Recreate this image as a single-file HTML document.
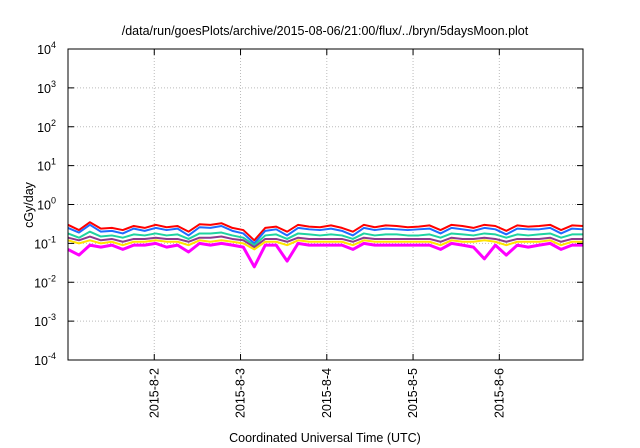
<!DOCTYPE html>
<html><head><meta charset="utf-8"><style>
html,body{margin:0;padding:0;background:#fff;width:640px;height:448px;overflow:hidden}
svg{font-family:"Liberation Sans",sans-serif}
</style></head><body>
<svg id="chart" width="640" height="448" xmlns="http://www.w3.org/2000/svg">
<text x="325" y="35" font-size="12.5" text-anchor="middle">/data/run/goesPlots/archive/2015-08-06/21:00/flux/../bryn/5daysMoon.plot</text>
<g id="grid"></g>
<g id="series"></g>
<rect x="68" y="49" width="515" height="311" fill="none" stroke="#000" stroke-width="1"/>
<g id="axes"></g>
<text transform="translate(33,205) rotate(-90)" font-size="12.5" text-anchor="middle">cGy/day</text>
<text x="325" y="442" font-size="12.5" text-anchor="middle">Coordinated Universal Time (UTC)</text>
</svg>
<script>
const xTickLabels=["2015-8-2","2015-8-3","2015-8-4","2015-8-5","2015-8-6"];
const xTickDays=[1,2,3,4,5];
const yTickExps=[4,3,2,1,0,-1,-2,-3,-4];
const seriesColors=["#ff0000","#1e6cff","#1fd3a0","#8e3a8e","#ffe400","#ff00ff"];
const red=[0.30,0.22,0.35,0.24,0.25,0.22,0.28,0.25,0.30,0.26,0.28,0.20,0.31,0.30,0.33,0.25,0.22,0.12,0.25,0.27,0.20,0.30,0.27,0.26,0.29,0.25,0.20,0.30,0.26,0.29,0.28,0.26,0.27,0.29,0.22,0.30,0.28,0.25,0.30,0.28,0.21,0.29,0.27,0.28,0.30,0.22,0.29,0.28];
const blue=[0.25,0.19,0.30,0.20,0.21,0.18,0.24,0.21,0.25,0.22,0.24,0.16,0.26,0.25,0.28,0.21,0.18,0.10,0.21,0.23,0.16,0.25,0.23,0.22,0.24,0.21,0.16,0.25,0.22,0.24,0.23,0.22,0.23,0.24,0.18,0.25,0.23,0.21,0.25,0.23,0.17,0.24,0.23,0.23,0.25,0.18,0.24,0.23];
const teal=[0.18,0.14,0.20,0.15,0.16,0.14,0.17,0.16,0.18,0.16,0.17,0.13,0.18,0.18,0.19,0.16,0.14,0.09,0.16,0.17,0.13,0.18,0.17,0.16,0.17,0.16,0.13,0.18,0.16,0.17,0.17,0.16,0.16,0.17,0.14,0.18,0.17,0.16,0.18,0.17,0.14,0.17,0.16,0.17,0.18,0.14,0.17,0.17];
const purple=[0.14,0.12,0.15,0.12,0.13,0.11,0.13,0.13,0.14,0.13,0.13,0.11,0.14,0.14,0.15,0.13,0.12,0.08,0.13,0.13,0.11,0.14,0.13,0.13,0.13,0.13,0.11,0.14,0.13,0.13,0.13,0.13,0.13,0.13,0.11,0.14,0.13,0.13,0.14,0.13,0.11,0.13,0.13,0.13,0.14,0.11,0.13,0.13];
const yellow=[0.12,0.10,0.12,0.10,0.11,0.09,0.11,0.11,0.12,0.11,0.11,0.09,0.12,0.11,0.12,0.11,0.10,0.07,0.11,0.11,0.09,0.12,0.11,0.11,0.11,0.11,0.09,0.12,0.11,0.11,0.11,0.11,0.11,0.11,0.09,0.12,0.11,0.11,0.12,0.11,0.09,0.11,0.11,0.11,0.12,0.09,0.11,0.11];
const magenta=[0.07,0.05,0.09,0.08,0.09,0.07,0.09,0.09,0.10,0.08,0.09,0.06,0.10,0.09,0.10,0.09,0.08,0.025,0.09,0.09,0.035,0.10,0.09,0.09,0.09,0.09,0.07,0.10,0.09,0.09,0.09,0.09,0.09,0.09,0.07,0.10,0.09,0.08,0.04,0.09,0.05,0.09,0.08,0.09,0.10,0.07,0.09,0.09];
const seriesNames=["series-red","series-blue","series-teal","series-purple","series-yellow","series-magenta"];
const NS="http://www.w3.org/2000/svg";
const L=68,R=583,T=49,B=360,DAYS=5.97;
function xs(d){return L+(d/DAYS)*(R-L);}
function ys(v){return B-(Math.log10(v)+4)/8*(B-T);}
function mk(tag,attrs,parent){const e=document.createElementNS(NS,tag);for(const k in attrs)e.setAttribute(k,attrs[k]);parent.appendChild(e);return e;}
const grid=document.getElementById('grid'),axes=document.getElementById('axes'),ser=document.getElementById('series');
yTickExps.forEach(p=>{const y=ys(Math.pow(10,p));
 if(p<4&&p>-4){const g=mk('line',{x1:L,x2:R,y1:y,y2:y,stroke:'#bbb','stroke-dasharray':'1,2'},grid);
 
 }
 const t1=mk('line',{x1:L,x2:L+6,y1:y,y2:y,stroke:'#000'},axes);
 
 
 mk('line',{x1:R,x2:R-6,y1:y,y2:y,stroke:'#000'},axes);
 const tx=mk('text',{x:L-12,y:y+5,'font-size':'12.5','text-anchor':'end'},axes);
 
 
 tx.textContent='10';
 const sp=mk('tspan',{dy:-6,'font-size':'9'},tx);sp.textContent=String(p);
});
xTickDays.forEach((d,i)=>{const x=xs(d);
 const g=mk('line',{x1:x,x2:x,y1:T,y2:B,stroke:'#bbb','stroke-dasharray':'1,2'},grid);
 
 
 mk('line',{x1:x,x2:x,y1:B,y2:B-6,stroke:'#000'},axes);
 mk('line',{x1:x,x2:x,y1:T,y2:T+6,stroke:'#000'},axes);
 const tx=mk('text',{transform:`translate(${x+4},${B+8}) rotate(-90)`,'font-size':'12.5','text-anchor':'end'},axes);
 
 
 tx.textContent=xTickLabels[i];
});
[red,blue,teal,purple,yellow,magenta].forEach((arr,si)=>{
 const pts=arr.map((v,i)=>xs(i/8*(DAYS/5.875))+','+ys(v)).join(' ');
 const pl=mk('polyline',{points:pts,fill:'none',stroke:seriesColors[si],'stroke-width':si==5?3:2,'stroke-linejoin':'round'},ser);
 
 
});
</script>
</body></html>
